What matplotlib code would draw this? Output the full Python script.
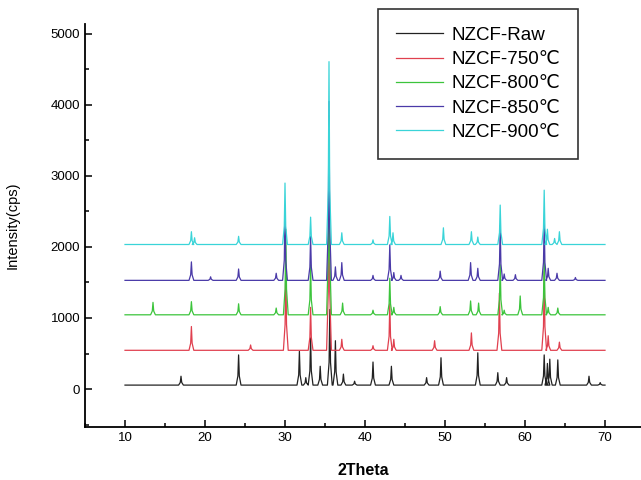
import numpy as np
import matplotlib
matplotlib.use("Agg")
import matplotlib.pyplot as plt
from matplotlib.ticker import MultipleLocator

plt.rcParams['font.family'] = ['Liberation Sans', 'DejaVu Sans']

labels = ["NZCF-Raw", "NZCF-750℃", "NZCF-800℃", "NZCF-850℃", "NZCF-900℃"]
colors = ["#222222", "#e0404f", "#3cc43c", "#4a3aa8", "#3ad4d8"]

x_start, x_end = 10.0, 70.0

# baseline level of each pattern (cps, including vertical offset)
baselines = [55, 545, 1045, 1530, 2035]

# peak positions (2theta) and apex intensities (cps)
raw_pos = [17.0, 24.2, 31.8, 32.6, 33.2, 34.4, 35.6, 36.3, 37.3, 38.7, 41.0, 43.3,
           47.7, 49.5, 54.1, 56.6, 57.7, 62.4, 62.8, 63.1, 64.1, 68.0, 69.4]
raw_int = [180, 480, 530, 160, 720, 320, 1120, 680, 210, 110, 380, 320,
           160, 440, 510, 230, 160, 480, 360, 420, 410, 180, 90]

c750_pos = [18.3, 25.7, 30.1, 33.2, 35.5, 37.1, 41.0, 43.1, 43.6, 48.7, 53.3,
            56.8, 62.4, 62.9, 64.3]
c750_int = [880, 620, 1750, 1150, 3300, 700, 610, 1200, 700, 680, 790,
            1350, 1650, 750, 660]

c800_pos = [13.5, 18.3, 24.2, 28.9, 30.1, 33.2, 35.5, 37.2, 41.0, 43.1, 43.6, 49.4,
            53.2, 54.2, 56.9, 57.4, 59.4, 62.4, 62.9, 64.1]
c800_int = [1220, 1230, 1200, 1140, 2250, 1750, 3850, 1210, 1110, 1560, 1150, 1160,
            1240, 1210, 1750, 1110, 1310, 1850, 1150, 1140]

c850_pos = [18.3, 20.7, 24.2, 28.9, 30.0, 33.2, 35.5, 36.3, 37.1, 41.0, 43.1, 43.6,
            44.5, 49.4, 53.2, 54.1, 56.9, 57.4, 58.8, 62.4, 62.9, 64.0, 66.3]
c850_int = [1790, 1580, 1690, 1630, 2480, 2150, 4050, 1720, 1780, 1600, 2030, 1640,
            1600, 1660, 1780, 1700, 2300, 1620, 1610, 2380, 1700, 1630, 1570]

c900_pos = [18.3, 18.7, 24.2, 30.0, 33.2, 35.5, 37.1, 41.0, 43.1, 43.5, 49.8,
            53.3, 54.1, 56.9, 62.4, 62.8, 63.7, 64.3]
c900_int = [2215, 2130, 2150, 2900, 2420, 4610, 2200, 2100, 2430, 2200, 2270,
            2215, 2140, 2590, 2800, 2250, 2120, 2215]

positions = [raw_pos, c750_pos, c800_pos, c850_pos, c900_pos]
intensities = [raw_int, c750_int, c800_int, c850_int, c900_int]


def pattern(base, pos, inten):
    xs = [x_start]
    ys = [base]
    hw = 0.3  # drawing half-width of a peak
    for c, top in sorted(zip(pos, inten)):
        xs += [c - hw, c - 0.09, c, c + 0.09, c + hw]
        h = top - base
        ys += [base, base + 0.3 * h, top, base + 0.3 * h, base]
    xs.append(x_end)
    ys.append(base)
    return np.array(xs), np.array(ys)


fig = plt.figure(figsize=(6.41, 4.8), dpi=100)
ax = fig.add_axes([85 / 641, 1 - 427 / 480, 556 / 641, (427 - 24) / 480])

for base, pos, inten, col, lab in zip(baselines, positions, intensities, colors, labels):
    xs, ys = pattern(base, pos, inten)
    ax.plot(xs, ys, color=col, lw=0.9, label=lab)

ax.set_xlim(5, 74.5)
ax.set_ylim(-535, 5140)
ax.xaxis.set_major_locator(MultipleLocator(10))
ax.xaxis.set_minor_locator(MultipleLocator(5))
ax.yaxis.set_major_locator(MultipleLocator(1000))
ax.yaxis.set_minor_locator(MultipleLocator(500))
ax.tick_params(which='both', direction='in', labelsize=9.5, width=1.1)
ax.tick_params(which='major', length=5)
ax.tick_params(which='minor', length=3)
for s in ['top', 'right']:
    ax.spines[s].set_visible(False)
for s in ['left', 'bottom']:
    ax.spines[s].set_linewidth(1.3)

ax.set_xlabel("2Theta", fontsize=11.5, fontweight='bold', labelpad=14)
ax.set_ylabel("Intensity(cps)", fontsize=10.5, labelpad=22)

leg = ax.legend(loc='upper left', bbox_to_anchor=(378 / 641, 1 - 9 / 480), bbox_transform=fig.transFigure,
                fontsize=13.5, frameon=True, fancybox=False, handlelength=2.5,
                labelspacing=0.38, borderpad=0.95, handletextpad=0.45, borderaxespad=0)
leg.get_frame().set_edgecolor('black')
leg.get_frame().set_linewidth(1.2)

fig.savefig("out.png", dpi=100)
